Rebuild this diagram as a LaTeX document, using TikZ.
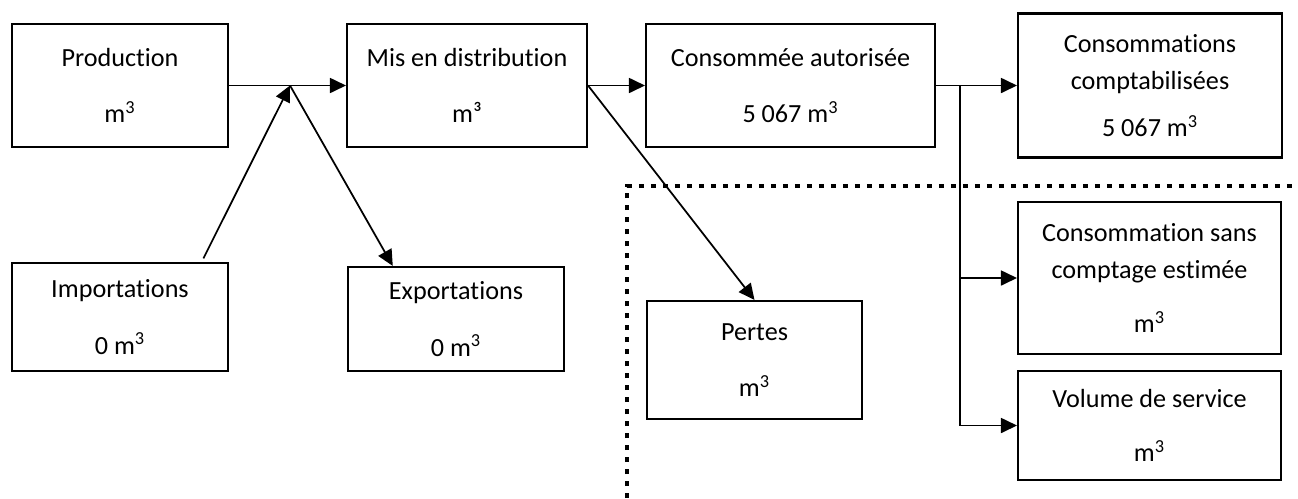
\documentclass[tikz,border=0pt]{standalone}
\usepackage{fontspec}
\setmainfont{Carlito}[Ligatures=NoCommon]
\usetikzlibrary{arrows.meta}

\begin{document}
\begin{tikzpicture}[x=0.02cm,y=-0.02cm,
  box/.style={draw,line width=1.2pt,inner sep=0pt,align=center,font=\fontsize{14.9}{21}\selectfont},
  flow/.style={line width=1pt,-{Triangle[length=0.32cm,width=0.3cm]}},
  border/.style={line width=0.095cm,dash pattern=on 0.095cm off 0.145cm}]
\useasboundingbox (0,0) rectangle (1298,498);

% top row
\node[box,minimum width=4.32cm,minimum height=2.46cm] (prod) at (120,85.5) {Production\\[11pt]m\textsuperscript{3}};
\node[box,minimum width=4.80cm,minimum height=2.46cm] (mis) at (467,85.5) {Mis en distribution\\[11pt]m³};
\node[box,minimum width=5.78cm,minimum height=2.46cm] (conso) at (790.5,85.5) {Consommée autorisée\\[11pt]5 067 m\textsuperscript{3}};
\node[box,minimum width=5.28cm,minimum height=2.88cm] (compta) at (1150,85.5) {Consommations\\comptabilisées\\[6pt]5 067 m\textsuperscript{3}};

% bottom left
\node[box,minimum width=4.32cm,minimum height=2.16cm] (imp) at (120,317) {Importations\\[11pt]0 m\textsuperscript{3}};
\node[box,minimum width=4.32cm,minimum height=2.08cm] (exp) at (456,319) {Exportations\\[11pt]0 m\textsuperscript{3}};

% bottom right
\node[box,minimum width=4.30cm,minimum height=2.36cm] (pertes) at (754.5,360) {Pertes\\[11pt]m\textsuperscript{3}};
\node[box,minimum width=5.26cm,minimum height=3.04cm] (sans) at (1149.5,278) {Consommation sans\\comptage estimée\\[10pt]m\textsuperscript{3}};
\node[box,minimum width=5.26cm,minimum height=2.18cm] (service) at (1149.5,425.5) {Volume de service\\[10pt]m\textsuperscript{3}};

% arrows
\coordinate (J) at (290,85.5);
\coordinate (B) at (960,85.5);
\draw[flow] (prod.east) -- (mis.west);
\draw[flow,shorten <=0.08cm] (imp.34) -- (J);
\draw[flow] (J) -- (exp.140);
\draw[flow] (mis.east) -- (conso.west);
\draw[flow] (mis.east) -- (pertes.north);
\draw[flow] (conso.east) -- (compta.west);
\draw[flow] (B) |- (sans.west);
\draw[flow] (B) |- (service.west);

% dotted frame
\draw[border] (627,498) -- (627,186) -- (1298,186);

\end{tikzpicture}
\end{document}
